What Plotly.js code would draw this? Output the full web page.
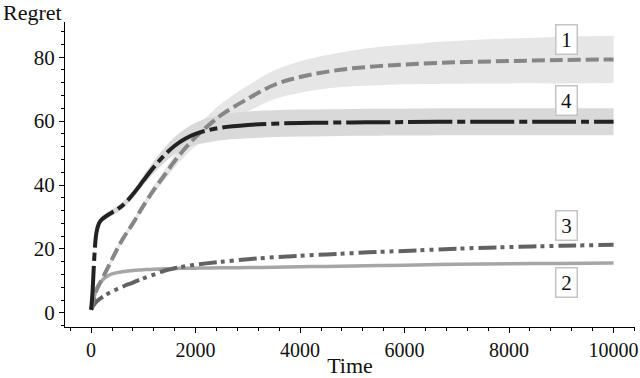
<!DOCTYPE html>
<html>
<head>
<meta charset="utf-8">
<script src="https://cdn.plot.ly/plotly-3.0.1.min.js"></script>
<style>
  html, body { margin: 0; padding: 0; background: white; }
  #chart { width: 640px; height: 378px; }
</style>
</head>
<body>
<div id="chart"></div>
<script>
// Regret over time for four policies

const timeSteps = [0, 25, 50, 75, 100, 150, 200, 300, 400, 500, 600, 700, 800, 900, 1000,
    1200, 1400, 1600, 1800, 2000, 2200, 2500, 3000, 3500, 4000, 4500, 5000, 5500,
    6000, 7000, 8000, 9000, 10000];

// curve 1 (grey dashed) with its band
const regret1 = [1, 2.5, 4, 5.5, 7, 8.7, 10.3, 13.5, 16.8, 20, 23, 25.5, 28, 30.8, 33.5,
    38.5, 43, 47.5, 51.5, 55, 58, 62, 67, 71.3, 73.8, 75.4, 76.5, 77.2,
    77.7, 78.4, 78.8, 79.1, 79.3];
const spread1 = [0, 0.2, 0.3, 0.4, 0.5, 0.5, 0.6, 0.7, 0.8, 0.8, 0.9, 0.9, 1, 1, 1.1,
    1.3, 1.6, 2, 2.4, 2.8, 3.2, 3.6, 4.1, 4.5, 4.9, 5.2, 5.6, 6,
    6.2, 6.7, 7, 7.3, 7.4];

// curve 2 (light grey solid)
const regret2 = [1, 3, 4.5, 6, 7.5, 9, 10, 11.4, 12.2, 12.6, 12.9, 13.1, 13.3, 13.4, 13.5,
    13.7, 13.8, 13.9, 13.95, 14, 14.05, 14.1, 14.2, 14.3, 14.45, 14.55, 14.7, 14.8,
    14.95, 15.2, 15.35, 15.5, 15.6];

// curve 3 (dark grey dash-dot-dot)
const regret3 = [1, 1.8, 2.5, 3, 3.5, 4.2, 4.8, 5.8, 6.7, 7.5, 8.2, 8.9, 9.5, 10.2, 10.8,
    12, 13.2, 14, 14.6, 15.1, 15.5, 16, 16.8, 17.4, 17.9, 18.3, 18.7, 19.1,
    19.4, 20.1, 20.6, 21, 21.3];

// curve 4 (black dash-dot) with its band
const regret4 = [1, 6, 14, 21, 25, 28, 29.2, 30.4, 31.4, 32.4, 33.6, 35.2, 37.1, 39.2, 41.4,
    45.6, 49.3, 52.3, 54.5, 56, 57, 58, 58.8, 59.2, 59.4, 59.5, 59.6, 59.65,
    59.7, 59.8, 59.8, 59.8, 59.8];
const spread4 = [0.3, 0.6, 0.8, 0.9, 1, 1, 1, 1, 1, 1, 1.1, 1.1, 1.2, 1.3, 1.5,
    1.9, 2.3, 2.7, 3.1, 3.5, 3.8, 4, 4.2, 4.2, 4.2, 4.2, 4.2, 4.2,
    4.2, 4.2, 4.2, 4.2, 4.2];

const labelNames = ['1', '4', '3', '2'];
const labelX = [9090, 9090, 9090, 9090];
const labelY = [85.6, 66.3, 27.3, 9.6];

function bandTraces(mean, spread, color) {
    const lower = mean.map((v, i) => v - spread[i]);
    const upper = mean.map((v, i) => v + spread[i]);
    return [
        { x: timeSteps, y: lower, type: 'scatter', mode: 'lines',
          line: { width: 0, shape: 'spline' }, hoverinfo: 'skip', showlegend: false },
        { x: timeSteps, y: upper, type: 'scatter', mode: 'lines', fill: 'tonexty',
          fillcolor: color, line: { width: 0, shape: 'spline' }, hoverinfo: 'skip', showlegend: false }
    ];
}

function lineTrace(y, color, width, dash) {
    return {
        x: timeSteps, y: y, type: 'scatter', mode: 'lines', showlegend: false,
        line: { color: color, width: width, dash: dash, shape: 'spline' }
    };
}

const plotData = [
    ...bandTraces(regret1, spread1, '#e6e6e6'),
    ...bandTraces(regret4, spread4, '#d9d9d9'),
    lineTrace(regret2, '#a6a6a6', 3.5, 'solid'),
    lineTrace(regret3, '#626262', 4, '18px,4px,4px,5px,4px,5px'),
    lineTrace(regret1, '#868686', 4, '13px,5px'),
    lineTrace(regret4, '#222222', 4, '44px,5px,8px,5px')
];

const serif = '"Liberation Serif", "Times New Roman", serif';

const annotations = labelNames.map((name, i) => ({
    x: labelX[i], y: labelY[i], xref: 'x', yref: 'y',
    text: name, showarrow: false,
    font: { family: serif, size: 21, color: '#111' },
    bgcolor: 'white', bordercolor: '#c4c4c4', borderwidth: 1.5,
    width: 16, height: 24, borderpad: 2
}));

annotations.push({
    xref: 'paper', yref: 'paper', x: 0, y: 1,
    xanchor: 'left', yanchor: 'middle', xshift: -64, yshift: 10,
    text: 'Regret', showarrow: false,
    font: { family: serif, size: 22, color: '#111' }
});

const layout = {
    width: 640,
    height: 378,
    margin: { t: 22, r: 5, b: 51, l: 65 },
    paper_bgcolor: 'white',
    plot_bgcolor: 'white',
    font: { family: serif, size: 20, color: '#111' },
    showlegend: false,
    xaxis: {
        range: [-500, 10410],
        dtick: 2000, tick0: 0, tickformat: 'd',
        showgrid: false, zeroline: false,
        showline: true, linecolor: 'black', linewidth: 1,
        ticks: 'outside', ticklen: 5, tickcolor: 'black',
        minor: { dtick: 400, tick0: 0, ticks: 'outside', ticklen: 3, tickcolor: 'black', showgrid: false },
        tickfont: { family: serif, size: 20 },
        ticklabeloverflow: 'allow',
        title: { text: 'Time', font: { family: serif, size: 22 }, standoff: 9 }
    },
    yaxis: {
        range: [-4.4, 91],
        dtick: 20, tick0: 0,
        showgrid: false, zeroline: false,
        showline: true, linecolor: 'black', linewidth: 1,
        ticks: 'outside', ticklen: 5, tickcolor: 'black',
        minor: { dtick: 4, tick0: 0, ticks: 'outside', ticklen: 3, tickcolor: 'black', showgrid: false },
        tickfont: { family: serif, size: 21 }
    },
    annotations: annotations
};

Plotly.newPlot('chart', plotData, layout, { displayModeBar: false, staticPlot: true });
</script>
</body>
</html>
